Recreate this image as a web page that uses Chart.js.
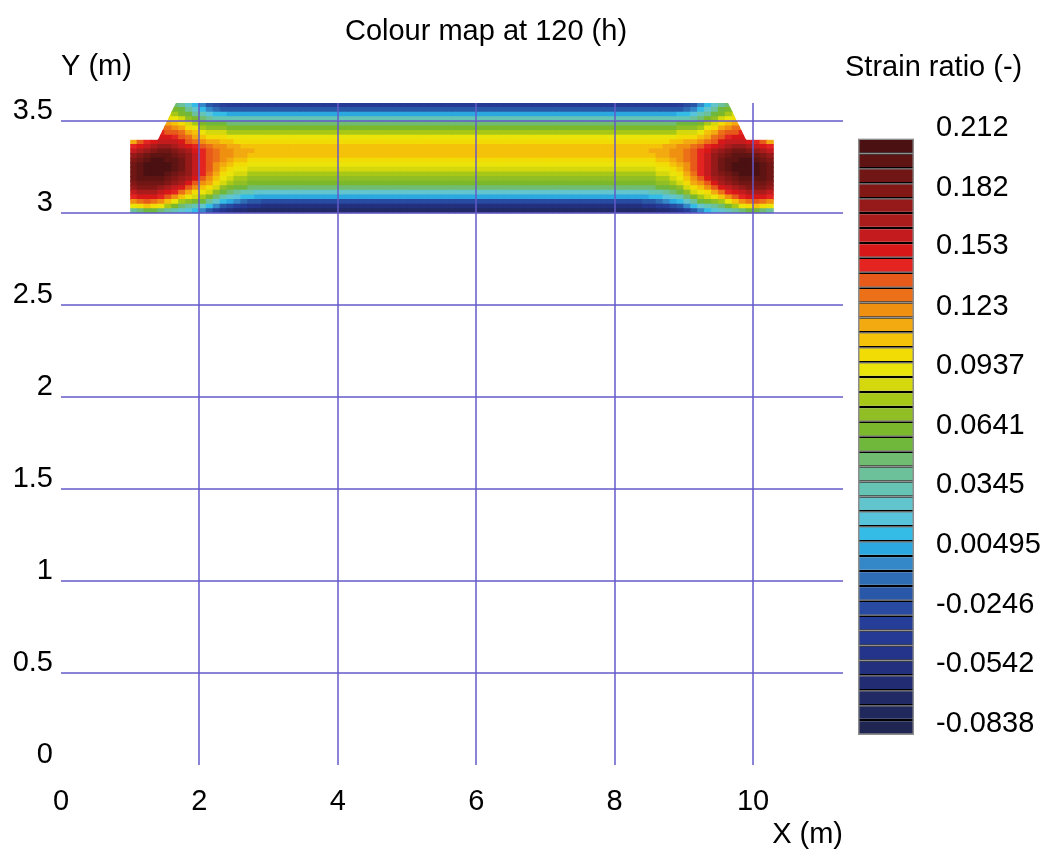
<!DOCTYPE html>
<html lang="en">
<head>
<meta charset="utf-8">
<title>Colour map at 120 (h)</title>
<script src="https://cdn.jsdelivr.net/npm/chart.js"></script>
<style>
html,body{margin:0;background:#fff}
#wrap{position:relative;width:1040px;height:852px}
#map{position:absolute;left:0;top:0}
#scale{position:absolute;left:840px;top:0}
</style>
</head>
<body>
<div id="wrap">
  <canvas id="map" width="972" height="852"></canvas>
  <canvas id="scale" width="200" height="852"></canvas>
</div>

<script>
/* ---------- colour scale (40 bands, lowest first) ---------- */
const LEVEL_MIN = -0.0838;
const LEVEL_MAX = 0.212;
const BAND_COLOURS = [
  '#202652','#21285c','#222a66','#222c72','#23307e','#24348a','#243a94','#263e98',
  '#284aa0','#2a58a8','#2e6cb4','#3488c8','#2ca8e0','#34bce6','#58c4dc','#62c4cc',
  '#66c4b4','#6cc09a','#70bc70','#70b83c','#7cb82c','#90be24','#a8c818','#d4d80c',
  '#eae40a','#f2dc06','#f4c208','#f2aa10','#f09010','#ec7018','#e85a1a','#e42420',
  '#d81818','#c41c1e','#aa1c1c','#961a1a','#821816','#701614','#5e1412','#4a1012'
];
const SCALE_LABELS = ['0.212','0.182','0.153','0.123','0.0937','0.0641','0.0345','0.00495','-0.0246','-0.0542','-0.0838'];

/* ---------- axes ---------- */
const X_TICKS = [0, 2, 4, 6, 8, 10];
const Y_TICKS = [0, 0.5, 1, 1.5, 2, 2.5, 3, 3.5];

/* ---------- section outline (m) ---------- */
const OUTLINE_X = [1.0, 10.3, 10.3, 9.9, 9.64, 1.66, 1.4, 1.0];
const OUTLINE_Y = [3.0, 3.0, 3.4, 3.4, 3.6, 3.6, 3.4, 3.4];

/* ---------- section grid: 93 columns of 0.1 m from x=1.0, 24 rows of 0.025 m from y=3.0 ---------- */
const COL_X0 = 1.0, COL_DX = 0.1;
const ROW_Y0 = 3.0, ROW_DY = 0.025;
const MID_COLS = 53;   // x 3.0 – 8.3, same band across

// band read per cell, rows bottom -> top; null = outside the section
// left end, x 1.05 … 2.95
const FIELD_LEFT = [
  [17,18,19,19,18,17,16,15,14,13,11,9,7,5,4,3,3,2,2,2],
  [24,25,26,25,24,22,20,18,17,16,15,13,11,9,8,7,6,5,5,4],
  [28,29,30,29,28,26,24,22,21,20,19,17,15,13,12,11,10,9,9,8],
  [31,32,32,32,31,30,28,26,24,23,22,20,18,16,15,14,13,13,12,12],
  [33,34,34,34,33,32,31,29,27,25,24,23,21,19,18,17,16,16,15,15],
  [35,36,36,36,35,34,33,32,30,28,26,25,23,21,20,19,19,18,18,18],
  [36,37,37,37,37,36,35,34,32,30,28,27,25,23,22,21,21,20,20,20],
  [37,38,38,38,38,37,36,35,34,32,30,28,26,24,23,22,22,21,21,21],
  [37,38,39,39,39,38,37,36,35,33,31,29,27,25,24,23,23,22,22,22],
  [37,38,39,39,39,39,38,37,35,33,31,30,28,26,25,24,24,23,23,23],
  [37,38,39,39,39,39,38,37,35,33,31,30,28,27,26,25,25,24,24,24],
  [36,37,38,39,39,38,38,37,35,33,31,30,29,28,27,26,26,25,25,25],
  [35,36,37,38,38,38,37,36,35,33,31,30,29,28,28,27,27,26,26,26],
  [33,34,35,36,37,37,36,35,34,32,31,30,29,28,28,27,27,27,26,26],
  [31,32,33,34,35,35,34,33,32,31,30,29,28,28,27,27,26,26,26,26],
  [27,30,31,32,33,33,33,32,30,29,28,27,27,26,26,25,25,25,25,25],
  [null,null,null,null,32,32,31,30,29,27,26,25,25,25,24,24,24,24,24,24],
  [null,null,null,null,31,30,30,29,27,26,24,23,23,23,22,22,22,22,22,22],
  [null,null,null,null,29,29,28,27,25,24,22,21,21,21,20,20,20,20,20,20],
  [null,null,null,null,27,27,26,25,23,22,20,19,19,19,18,18,18,18,18,18],
  [null,null,null,null,null,25,24,23,21,20,18,17,16,16,16,16,16,16,16,16],
  [null,null,null,null,null,23,22,20,19,17,16,14,13,13,12,12,12,12,12,12],
  [null,null,null,null,null,21,20,19,17,15,13,11,10,9,9,9,9,9,9,9],
  [null,null,null,null,null,null,18,17,15,13,11,9,8,7,6,6,6,6,6,6]
];
// middle part, one band per row
const FIELD_MID = [2,4,8,12,15,18,20,21,22,23,24,25,26,26,26,25,24,22,20,18,16,12,9,6];
// right end, x 8.35 … 10.25
const FIELD_RIGHT = [
  [2,2,2,3,3,4,5,7,9,11,13,14,15,16,17,18,19,19,18,17],
  [4,5,5,6,7,8,9,11,13,15,16,17,18,20,22,24,25,26,25,24],
  [8,9,9,10,11,12,13,15,17,19,20,21,22,24,26,28,29,30,29,28],
  [12,12,13,13,14,15,16,18,20,22,23,24,26,28,30,31,32,32,32,31],
  [15,15,16,16,17,18,19,21,23,24,25,27,29,31,32,33,34,34,34,33],
  [18,18,18,19,19,20,21,23,25,26,28,30,32,33,34,35,36,36,36,35],
  [20,20,20,21,21,22,23,25,27,28,30,32,34,35,36,37,37,37,37,36],
  [21,21,21,22,22,23,24,26,28,30,32,34,35,36,37,38,38,38,38,37],
  [22,22,22,23,23,24,25,27,29,31,33,35,36,37,38,39,39,39,38,37],
  [23,23,23,24,24,25,26,28,30,31,33,35,37,38,39,39,39,39,38,37],
  [24,24,24,25,25,26,27,28,30,31,33,35,37,38,39,39,39,39,38,37],
  [25,25,25,26,26,27,28,29,30,31,33,35,37,38,38,39,39,38,37,36],
  [26,26,26,27,27,28,28,29,30,31,33,35,36,37,38,38,38,37,36,35],
  [26,26,27,27,27,28,28,29,30,31,32,34,35,36,37,37,36,35,34,33],
  [26,26,26,26,27,27,28,28,29,30,31,32,33,34,35,35,34,33,32,31],
  [25,25,25,25,25,26,26,27,27,28,29,30,32,33,33,33,32,31,30,27],
  [24,24,24,24,24,24,25,25,25,26,27,29,30,31,32,32,null,null,null,null],
  [22,22,22,22,22,22,23,23,23,24,26,27,29,30,30,31,null,null,null,null],
  [20,20,20,20,20,20,21,21,21,22,24,25,27,28,29,29,null,null,null,null],
  [18,18,18,18,18,18,19,19,19,20,22,23,25,26,27,27,null,null,null,null],
  [16,16,16,16,16,16,16,16,17,18,20,21,23,24,25,null,null,null,null,null],
  [12,12,12,12,12,12,13,13,14,16,17,19,20,22,23,null,null,null,null,null],
  [9,9,9,9,9,9,9,10,11,13,15,17,19,20,21,null,null,null,null,null],
  [6,6,6,6,6,6,7,8,9,11,13,15,17,18,null,null,null,null,null,null]
];

/* ---------- helpers ---------- */
const FONT_FAMILY = '"Liberation Sans", Arial, Helvetica, sans-serif';
const FONT = {family: FONT_FAMILY, size: 29, weight: 'normal'};
const INK = '#000';
const GRID = 'rgba(100,90,200,0.75)';

const STEP = (LEVEL_MAX - LEVEL_MIN) / BAND_COLOURS.length;
const bandValue = b => LEVEL_MIN + (b + 0.5) * STEP;
const colourOf = v => {
  const k = Math.floor((v - LEVEL_MIN) / STEP);
  return BAND_COLOURS[Math.max(0, Math.min(BAND_COLOURS.length - 1, k))];
};
const hideZero = c => (c.tick && c.tick.value === 0) ? 'rgba(0,0,0,0)' : GRID;

Chart.defaults.font.family = FONT_FAMILY;
Chart.defaults.color = INK;

/* one floating-bar dataset per grid row */
const rowSets = FIELD_MID.map((mid, r) => {
  const y0 = +(ROW_Y0 + r * ROW_DY).toFixed(4);
  const y1 = +(y0 + ROW_DY).toFixed(4);
  const bands = [...FIELD_LEFT[r], ...Array(MID_COLS).fill(mid), ...FIELD_RIGHT[r]];
  const data = [];
  bands.forEach((b, c) => {
    if (b === null) return;
    data.push({x: +(COL_X0 + (c + 0.5) * COL_DX).toFixed(2), y: [y0, y1], v: bandValue(b)});
  });
  return {
    label: 'y ' + y0,
    data,
    backgroundColor: ctx => ctx.raw ? colourOf(ctx.raw.v) : 'rgba(0,0,0,0)',
    borderWidth: 0,
    inflateAmount: 0.5,
    grouped: false,
    categoryPercentage: 1,
    barPercentage: 1
  };
});

/* plain text caption placed relative to the chart area */
const caption = {
  id: 'caption',
  afterDraw(chart, args, opts) {
    const {ctx, chartArea} = chart;
    ctx.save();
    ctx.font = `${FONT.size}px ${FONT_FAMILY}`;
    ctx.fillStyle = INK;
    ctx.textAlign = 'left';
    ctx.textBaseline = 'middle';
    ctx.fillText(opts.text, chartArea.left + opts.dx, chartArea.top + opts.dy);
    ctx.restore();
  }
};

/* keep the cells inside the section outline */
const sectionClip = {
  id: 'sectionClip',
  beforeDatasetsDraw(chart) {
    const {ctx, scales: {x, y}} = chart;
    ctx.save();
    ctx.beginPath();
    OUTLINE_X.forEach((vx, i) => {
      const px = x.getPixelForValue(vx), py = y.getPixelForValue(OUTLINE_Y[i]);
      if (i) ctx.lineTo(px, py); else ctx.moveTo(px, py);
    });
    ctx.closePath();
    ctx.clip();
  },
  afterDatasetsDraw(chart) {
    chart.ctx.restore();
  }
};

/* ---------- colour map ---------- */
new Chart(document.getElementById('map'), {
  type: 'bar',
  data: {datasets: rowSets},
  plugins: [caption, sectionClip],
  options: {
    responsive: false, animation: false, events: [],
    layout: {padding: 0},
    scales: {
      x: {
        type: 'linear', min: 0, max: 11.3, offset: false,
        afterBuildTicks: s => { s.ticks = X_TICKS.map(v => ({value: v})); },
        afterFit: s => { s.height = 87; },
        grid: {color: hideZero, lineWidth: 2, drawTicks: false, offset: false, z: 1},
        border: {display: false},
        ticks: {font: FONT, color: INK, padding: 19.6, maxRotation: 0, autoSkip: false, callback: v => String(v)},
        title: {display: true, text: 'X (m)', align: 'end', font: FONT, color: INK, padding: {top: 0, bottom: 0}}
      },
      y: {
        type: 'linear', min: 0, max: 3.6,
        afterBuildTicks: s => { s.ticks = Y_TICKS.map(v => ({value: v})); },
        afterFit: s => { s.width = 61; },
        grid: {color: hideZero, lineWidth: 2, drawTicks: false, z: 1},
        border: {display: false},
        ticks: {font: FONT, color: INK, padding: 8, labelOffset: -10, autoSkip: false, callback: v => String(v)}
      },
      // empty strip on the right so the title centres over the whole figure
      side: {
        type: 'linear', position: 'right', display: true,
        afterFit: s => { s.width = 129; },
        grid: {display: false}, border: {display: false}, ticks: {display: false}
      }
    },
    plugins: {
      legend: {display: false},
      tooltip: {enabled: false},
      title: {display: true, text: 'Colour map at 120 (h)', font: FONT, color: INK, padding: {top: 14.6, bottom: 53.6}},
      caption: {text: 'Y (m)', dx: 0, dy: -36.5}
    }
  }
});

/* ---------- colour bar ---------- */
const bandSets = BAND_COLOURS.map((col, k) => ({
  label: 'band ' + k,
  data: [[LEVEL_MIN + k * STEP, LEVEL_MIN + (k + 1) * STEP]],
  backgroundColor: col,
  borderColor: '#000',
  borderWidth: {top: 1.25, bottom: 1.25, left: 0, right: 0}
}));
const frameSet = {
  label: 'frame',
  data: [[LEVEL_MIN, LEVEL_MAX]],
  backgroundColor: 'rgba(0,0,0,0)',
  borderColor: '#8c8c8c',
  borderWidth: 1.5,
  order: -1
};

new Chart(document.getElementById('scale'), {
  type: 'bar',
  data: {labels: [''], datasets: [frameSet, ...bandSets]},
  plugins: [caption],
  options: {
    responsive: false, animation: false, events: [],
    layout: {padding: {left: 18, right: 0, top: 138.5, bottom: 117}},
    datasets: {bar: {grouped: false, categoryPercentage: 1, barPercentage: 1, borderSkipped: false, inflateAmount: 0}},
    scales: {
      x: {display: false},
      y: {
        position: 'right', min: LEVEL_MIN, max: LEVEL_MAX,
        afterBuildTicks: s => { s.ticks = SCALE_LABELS.map(t => ({value: parseFloat(t), text: t})); },
        afterFit: s => { s.width = 126; },
        grid: {display: false},
        border: {display: false},
        ticks: {font: FONT, color: INK, padding: 14, labelOffset: -11, autoSkip: false,
                callback: (v, i, ticks) => ticks[i].text}
      }
    },
    plugins: {
      legend: {display: false},
      tooltip: {enabled: false},
      caption: {text: 'Strain ratio (-)', dx: -13, dy: -70.5}
    }
  }
});
</script>
</body>
</html>
